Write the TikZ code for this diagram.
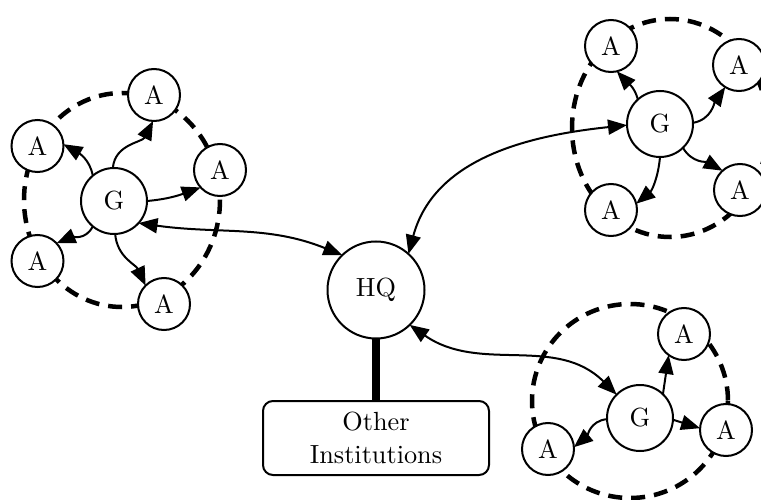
\documentclass[tikz,border=0pt]{standalone}
\usetikzlibrary{arrows.meta}
\begin{document}
\begin{tikzpicture}[x=0.4pt,y=-0.4pt,
  every node/.style={font=\fontsize{10.5}{13}\selectfont},
  anode/.style={circle, draw, fill=white, line width=0.8pt, minimum size=20.8pt, inner sep=0pt, outer sep=0pt},
  gnode/.style={anode, minimum size=26.4pt},
  hqnode/.style={anode, minimum size=38.8pt},
  instbox/.style={draw, fill=white, line width=0.8pt, rounded corners=4pt, minimum width=90.4pt, minimum height=29.6pt, align=center, inner sep=0pt},
  arr/.style={line width=0.8pt, -{Triangle[length=7.6pt,width=6pt]}},
  dbl/.style={line width=0.8pt, {Triangle[length=7.6pt,width=6pt]}-{Triangle[length=7.6pt,width=6pt]}},
  cluster/.style={line width=1.8pt, dash pattern=on 5.6pt off 3.6pt},
  thickline/.style={line width=3pt}
]
\useasboundingbox (0,0) rectangle (761,500);
\clip (0,0) rectangle (761,500);

% clusters
\draw[cluster] (122,200) ellipse [x radius=98, y radius=107];
\draw[cluster] (670,128) ellipse [x radius=98, y radius=109];
\draw[cluster] (630,401) ellipse [x radius=98, y radius=97];

% left cluster
\node[gnode] (g1) at (114,201) {G};
\node[anode] (a11) at (37.5,146) {A};
\node[anode] (a12) at (154,95) {A};
\node[anode] (a13) at (220,170) {A};
\node[anode] (a14) at (37.5,261) {A};
\node[anode] (a15) at (164,304) {A};

% top-right cluster
\node[gnode] (g2) at (660,124) {G};
\node[anode] (a21) at (611,46) {A};
\node[anode] (a22) at (739,65) {A};
\node[anode] (a23) at (740,190) {A};
\node[anode] (a24) at (611,210) {A};

% bottom-right cluster
\node[gnode] (g3) at (640,418) {G};
\node[anode] (a31) at (684,334) {A};
\node[anode] (a32) at (726,430) {A};
\node[anode] (a33) at (548,449) {A};

% HQ and institutions
\node[hqnode] (hq) at (376,290) {HQ};
\node[instbox] (inst) at (376,438) {Other\\Institutions};
\draw[thickline] (hq.south) -- (inst.north);

% left cluster arrows
\draw[arr] (g1.130) to[out=100,in=-30] (a11.4);
\draw[arr] (g1.92) to[out=85,in=-117] (a12.-92);
\draw[arr] (g1.0) to[out=5,in=200] (a13.222);
\draw[arr] (g1.230) to[out=-115,in=23] (a14.43);
\draw[arr] (g1.-88) to[out=-85,in=115] (a15.135);

% top-right cluster arrows
\draw[arr] (g2.132) to[out=105,in=-47] (a21.-77);
\draw[arr] (g2.2) to[out=10,in=235] (a22.238);
\draw[arr] (g2.-46) to[out=-60,in=151] (a23.132);
\draw[arr] (g2.-90) to[out=-95,in=40] (a24.14);

% bottom-right cluster arrows
\draw[arr] (g3.46) -- (a31.234);
\draw[arr] (g3.-3) -- (a32.176);
\draw[arr] (g3.182) to[out=185,in=40] (a33.4);

% HQ links
\draw[dbl] (g1.-42) to[out=-8,in=158] (hq.134);
\draw[dbl] (hq.48) to[out=75,in=186] (g2.182);
\draw[dbl] (hq.-46) to[out=-35,in=135] (g3.135);
\end{tikzpicture}
\end{document}
